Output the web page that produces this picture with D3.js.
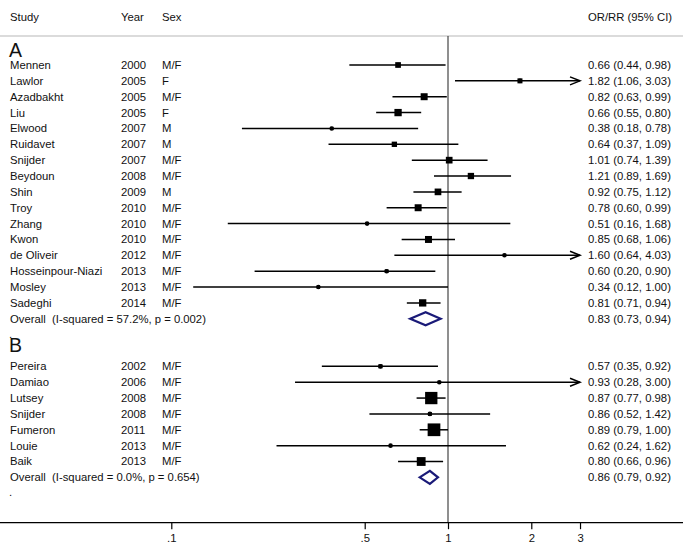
<!DOCTYPE html>
<html><head><meta charset="utf-8">
<script src="https://cdn.jsdelivr.net/npm/d3@7"></script>
<style>html,body{margin:0;padding:0;background:#fff;}svg{display:block;}</style>
</head><body>
<svg id="c" width="685" height="546"></svg>
<script>
// ---- data ----
const studiesA = ["Mennen","Lawlor","Azadbakht","Liu","Elwood","Ruidavet","Snijder","Beydoun","Shin","Troy","Zhang","Kwon","de Oliveir","Hosseinpour-Niazi","Mosley","Sadeghi"];
const yearsA   = [2000,2005,2005,2005,2007,2007,2007,2008,2009,2010,2010,2010,2012,2013,2013,2014];
const sexA     = ["M/F","F","M/F","F","M","M","M/F","M/F","M","M/F","M/F","M/F","M/F","M/F","M/F","M/F"];
const orA      = [0.66,1.82,0.82,0.66,0.38,0.64,1.01,1.21,0.92,0.78,0.51,0.85,1.60,0.60,0.34,0.81];
const loA      = [0.44,1.06,0.63,0.55,0.18,0.37,0.74,0.89,0.75,0.60,0.16,0.68,0.64,0.20,0.12,0.71];
const hiA      = [0.98,3.03,0.99,0.80,0.78,1.09,1.39,1.69,1.12,0.99,1.68,1.06,4.03,0.90,1.00,0.94];
const weightA  = [4.8,3.7,7.2,7.9,1.5,4.2,6.6,5.9,6.6,7.2,1.2,7.2,1.4,2.0,1.5,7.9];
const overallA = {label:"Overall\u00a0\u00a0(I-squared = 57.2%, p = 0.002)", or:0.83, lo:0.73, hi:0.94};

const studiesB = ["Pereira","Damiao","Lutsey","Snijder","Fumeron","Louie","Baik"];
const yearsB   = [2002,2006,2008,2008,2011,2013,2013];
const sexB     = ["M/F","M/F","M/F","M/F","M/F","M/F","M/F"];
const orB      = [0.57,0.93,0.87,0.86,0.89,0.62,0.80];
const loB      = [0.35,0.28,0.77,0.52,0.79,0.24,0.66];
const hiB      = [0.92,3.00,0.98,1.42,1.00,1.62,0.96];
const weightB  = [2.5,0.8,22.4,2.2,23.9,1.1,11.5];
const overallB = {label:"Overall\u00a0\u00a0(I-squared = 0.0%, p = 0.654)", or:0.86, lo:0.79, hi:0.92};

const tickValues = [0.1,0.5,1,2,3];
const tickLabels = [".1",".5","1","2","3"];
const headers = ["Study","Year","Sex","OR/RR (95% CI)"];

// ---- layout ----
const svg = d3.select("#c");
const FONT = "'Liberation Sans', Arial, Helvetica, sans-serif";
const FS = 11.3;
const x = d3.scaleLog().domain([0.1, 1]).range([171.3, 448]);
const xMax = 3;
const y = d3.scaleLinear().domain([0, 1]).range([65, 80.86]);
const boxSide = d3.scaleSqrt().domain([0, 25]).range([0, 13]);
const colStudy = 10, colYear = 121, colSex = 162, colCI = 588;
const axisY = 522.7, headerLineY = 36;

svg.append("rect").attr("width",685).attr("height",546).attr("fill","#fff");

// build rows
const rows = [];
studiesA.forEach((s,i)=>rows.push({row:i, study:s, year:yearsA[i], sex:sexA[i], or:orA[i], lo:loA[i], hi:hiA[i], w:weightA[i]}));
studiesB.forEach((s,i)=>rows.push({row:19+i, study:s, year:yearsB[i], sex:sexB[i], or:orB[i], lo:loB[i], hi:hiB[i], w:weightB[i]}));
const overalls = [Object.assign({row:16}, overallA), Object.assign({row:26}, overallB)];
const fmt = v => v.toFixed(2);

// header
const hdrX = [colStudy, colYear, colSex, colCI];
svg.selectAll("text.hdr").data(headers).join("text").attr("class","hdr")
  .attr("x",(d,i)=>hdrX[i]).attr("y",17).attr("dy","0.35em")
  .attr("font-family",FONT).attr("font-size",FS).attr("fill","#111").text(d=>d);
svg.append("line").attr("x1",0).attr("x2",683).attr("y1",headerLineY).attr("y2",headerLineY)
  .attr("stroke","#cfcfcf").attr("stroke-width",1.6);

// null line
svg.append("line").attr("x1",x(1)).attr("x2",x(1)).attr("y1",headerLineY).attr("y2",axisY)
  .attr("stroke","#333").attr("stroke-width",1.1);

// group labels
svg.append("text").attr("x",colStudy-1).attr("y",y(-1)+7.6).attr("font-family",FONT).attr("font-size",19.5).attr("fill","#111").text("A");
svg.append("text").attr("x",colStudy-1).attr("y",y(17.6)+7.6).attr("font-family",FONT).attr("font-size",19.5).attr("fill","#111").text("B");
// stray dots on blank rows
[17,27].forEach(r=>svg.append("text").attr("x",colStudy-1).attr("y",y(r)+3).attr("font-family",FONT).attr("font-size",FS).attr("fill","#111").text("."));

// text columns
const g = svg.append("g").attr("font-family",FONT).attr("font-size",FS).attr("fill","#111");
rows.forEach(d=>{
  const yy = y(d.row);
  g.append("text").attr("x",colStudy).attr("y",yy).attr("dy","0.35em").text(d.study);
  g.append("text").attr("x",colYear).attr("y",yy).attr("dy","0.35em").text(d.year);
  g.append("text").attr("x",colSex).attr("y",yy).attr("dy","0.35em").text(d.sex);
  g.append("text").attr("x",colCI).attr("y",yy).attr("dy","0.35em").text(`${fmt(d.or)} (${fmt(d.lo)}, ${fmt(d.hi)})`);
});
overalls.forEach(d=>{
  const yy = y(d.row);
  g.append("text").attr("x",colStudy).attr("y",yy).attr("dy","0.35em").text(d.label);
  g.append("text").attr("x",colCI).attr("y",yy).attr("dy","0.35em").text(`${fmt(d.or)} (${fmt(d.lo)}, ${fmt(d.hi)})`);
});

// CI lines, boxes, points
const m = svg.append("g");
rows.forEach(d=>{
  const yy = y(d.row);
  const arrow = d.hi >= xMax;
  const x1 = x(d.lo), x2 = x(Math.min(d.hi, xMax));
  m.append("line").attr("x1",x1).attr("x2",x2).attr("y1",yy).attr("y2",yy)
    .attr("stroke","#000").attr("stroke-width",1.5);
  if (arrow) {
    m.append("path").attr("d",`M${x2-10},${yy-4}L${x2},${yy}L${x2-10},${yy+4}`)
      .attr("fill","none").attr("stroke","#000").attr("stroke-width",1.5);
  }
  const s = boxSide(d.w);
  m.append("rect").attr("x",x(d.or)-s/2).attr("y",yy-s/2).attr("width",s).attr("height",s).attr("fill","#000");
  m.append("circle").attr("cx",x(d.or)).attr("cy",yy).attr("r",2.3).attr("fill","#000");
});
overalls.forEach(d=>{
  const yy = y(d.row), h = 6.5;
  m.append("path").attr("d",`M${x(d.lo)},${yy}L${x(d.or)},${yy-h}L${x(d.hi)},${yy}L${x(d.or)},${yy+h}Z`)
    .attr("fill","#fff").attr("stroke","#1a1a78").attr("stroke-width",2.2).attr("stroke-linejoin","miter");
});

// axis
svg.append("line").attr("x1",0).attr("x2",683).attr("y1",axisY).attr("y2",axisY).attr("stroke","#000").attr("stroke-width",1.3);
const axis = d3.axisBottom(x).tickValues(tickValues).tickFormat((d,i)=>tickLabels[i]).tickSize(6.5).tickPadding(5);
const ag = svg.append("g").attr("transform",`translate(0,${axisY})`).call(axis);
ag.select(".domain").remove();
ag.selectAll(".tick line").attr("stroke","#000").attr("stroke-width",1.2);
ag.selectAll(".tick text").attr("font-family",FONT).attr("font-size",FS).attr("fill","#111");
</script>
</body></html>
